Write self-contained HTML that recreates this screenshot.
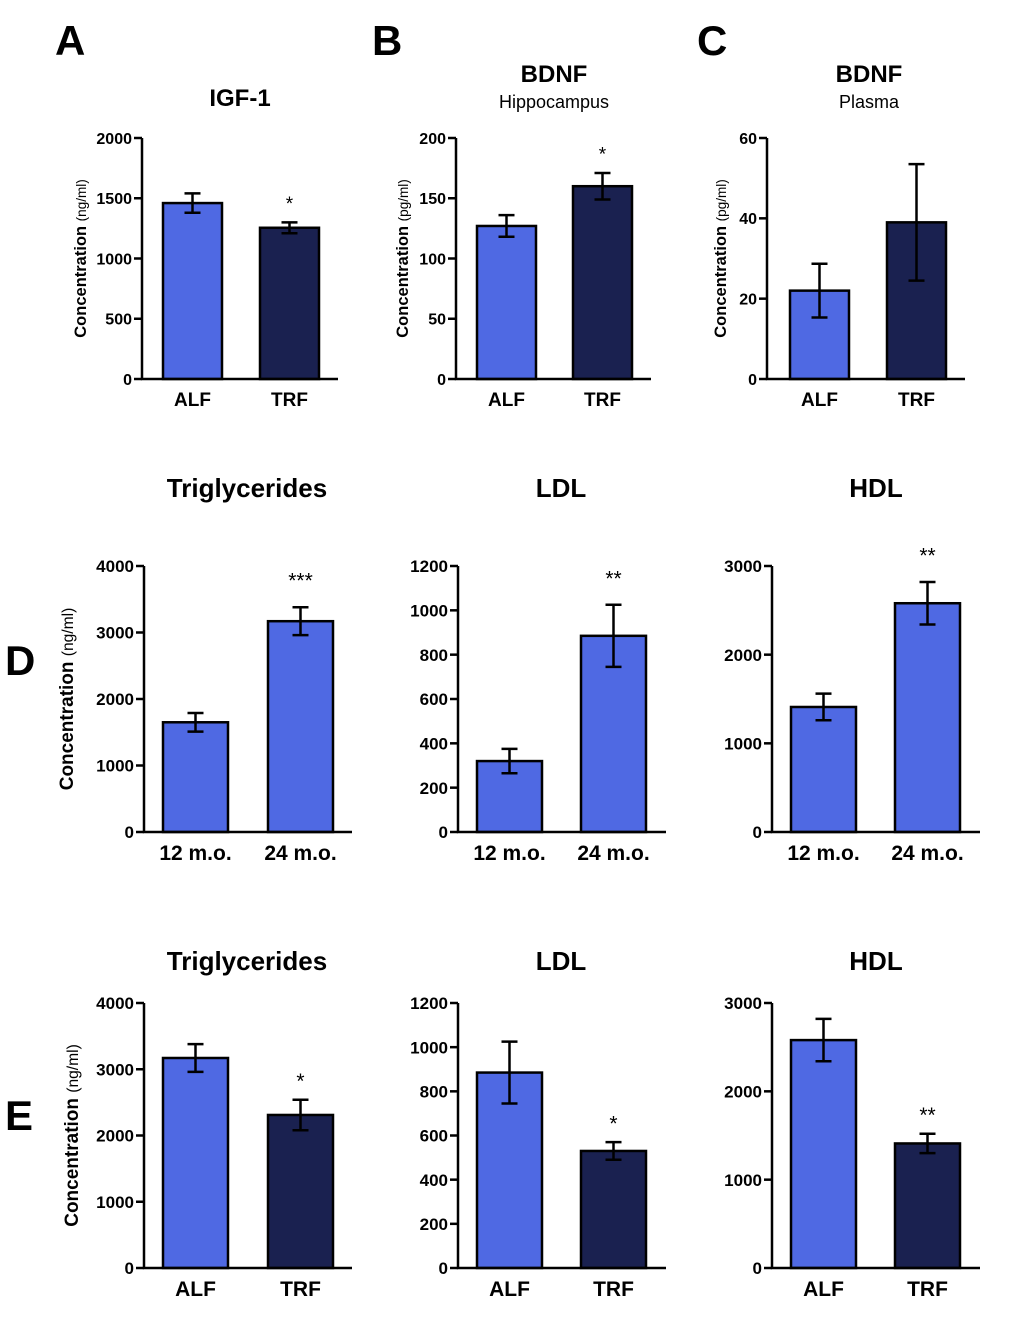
<!DOCTYPE html>
<html><head><meta charset="utf-8"><style>
html,body{margin:0;padding:0;background:#fff;}
svg{display:block;font-family:"Liberation Sans",Arial,sans-serif;}
</style></head><body>
<svg id="fig" width="1020" height="1325" viewBox="0 0 1020 1325"></svg>
<script>
const NS="http://www.w3.org/2000/svg";
const svg=document.getElementById('fig');
const LIGHT="#4f69e3",DARK="#1a2150";

// Panel data
const catsA=["ALF","TRF"], valsA=[1460,1255], errA=[80,45], sigA=["","*"], ticksA=[0,500,1000,1500,2000];
const catsB=["ALF","TRF"], valsB=[127,160], errB=[9,11], sigB=["","*"], ticksB=[0,50,100,150,200];
const catsC=["ALF","TRF"], valsC=[22,39], errC=[6.7,14.5], sigC=["",""], ticksC=[0,20,40,60];
const catsD=["12 m.o.","24 m.o."];
const valsD1=[1650,3170], errD1=[140,210], sigD1=["","***"], ticksD1=[0,1000,2000,3000,4000];
const valsD2=[320,885], errD2=[55,140], sigD2=["","**"], ticksD2=[0,200,400,600,800,1000,1200];
const valsD3=[1410,2580], errD3=[150,240], sigD3=["","**"], ticksD3=[0,1000,2000,3000];
const catsE=["ALF","TRF"];
const valsE1=[3170,2310], errE1=[210,230], sigE1=["","*"], ticksE1=[0,1000,2000,3000,4000];
const valsE2=[885,530], errE2=[140,40], sigE2=["","*"], ticksE2=[0,200,400,600,800,1000,1200];
const valsE3=[2580,1410], errE3=[240,110], sigE3=["","**"], ticksE3=[0,1000,2000,3000];

function el(tag,attrs,parent){const e=document.createElementNS(NS,tag);for(const k in attrs)e.setAttribute(k,attrs[k]);(parent||svg).appendChild(e);return e;}
function txt(s,attrs,parent){const t=el('text',attrs,parent);t.textContent=s;return t;}

function panel(o){
  const g=el('g',{});
  
  
  const y=v=>o.y0-(v/o.max)*(o.y0-o.y1);
  o.vals.forEach((v,i)=>{
    const bx=o.bx[i];
    const r=el('rect',{x:bx,y:y(v),width:o.bw,height:o.y0-y(v),fill:o.colors[i],stroke:"#000","stroke-width":2.5},g);
    
    
    const cx=bx+o.bw/2, e=o.errs[i];
    const eb=el('path',{d:`M${cx},${y(v+e)}V${y(v-e)}M${cx-8},${y(v+e)}H${cx+8}M${cx-8},${y(v-e)}H${cx+8}`,stroke:"#000","stroke-width":2.5,fill:"none"},g);
    
    
    if(o.sig[i]){const s=txt(o.sig[i],{x:cx,y:y(v+e)-o.sigOff+o.sfs*0.5,"text-anchor":"middle","font-size":o.sfs},g);
      
      }
    const xl=txt(o.cats[i],{x:cx,y:o.y0+o.xlOff,"text-anchor":"middle","font-size":o.xfs,"font-weight":"bold"},g);
    
    
  });
  const ax=el('path',{d:`M${o.ax},${o.y1}V${o.y0}H${o.xend}`,stroke:"#000","stroke-width":2.5,fill:"none"},g);
  
  
  o.ticks.forEach(t=>{
    el('path',{d:`M${o.ax-8},${y(t)}H${o.ax}`,stroke:"#000","stroke-width":2.5},g);
    const tl=txt(String(t),{x:o.ax-10,y:y(t)+o.fs*0.36,"text-anchor":"end","font-size":o.fs,"font-weight":"bold"},g);
    
    
  });
  if(o.ylab){
    const cy=(o.y0+o.y1)/2;
    const yl=el('text',{transform:`translate(${o.ylx},${cy}) rotate(-90)`,"text-anchor":"middle","font-size":o.ylfs,"font-weight":"bold"},g);
    
    
    yl.textContent="Concentration ";
    const ts=el('tspan',{"font-weight":"normal","font-size":o.ylfs*0.82},yl);ts.textContent=o.ylab;
  }
  if(o.title){const t=txt(o.title,{x:o.tx,y:o.ty,"text-anchor":"middle","font-size":o.tfs,"font-weight":"bold"},g);
    
    }
  if(o.sub){const t=txt(o.sub,{x:o.tx,y:o.ty+26,"text-anchor":"middle","font-size":18},g);
    
    }
}

const two=[LIGHT,DARK], same=[LIGHT,LIGHT];
const rowA={y0:379,y1:138,bw:59,fs:16,xfs:19,xlOff:27,ylfs:16.5,tfs:24,sfs:19,sigOff:22};
panel(Object.assign({},rowA,{name:'panel-a-igf1',cats:catsA,vals:valsA,errs:errA,sig:sigA,ticks:ticksA,max:2000,ax:142,xend:338,bx:[163,260],colors:two,ylab:"(ng/ml)",ylx:86,title:"IGF-1",tx:240,ty:106}));
panel(Object.assign({},rowA,{name:'panel-b-bdnf-hippocampus',cats:catsB,vals:valsB,errs:errB,sig:sigB,ticks:ticksB,max:200,ax:456,xend:651,bx:[477,573],colors:two,ylab:"(pg/ml)",ylx:408,title:"BDNF",sub:"Hippocampus",tx:554,ty:82}));
panel(Object.assign({},rowA,{name:'panel-c-bdnf-plasma',cats:catsC,vals:valsC,errs:errC,sig:sigC,ticks:ticksC,max:60,ax:767,xend:965,bx:[790,887],colors:two,ylab:"(pg/ml)",ylx:726,title:"BDNF",sub:"Plasma",tx:869,ty:82}));

const rowD={y0:832,y1:566,bw:65,fs:17,xfs:21,xlOff:28,ylfs:19,tfs:26,sfs:21,sigOff:30};
panel(Object.assign({},rowD,{name:'panel-d-triglycerides',cats:catsD,vals:valsD1,errs:errD1,sig:sigD1,ticks:ticksD1,max:4000,ax:144,xend:352,bx:[163,268],colors:same,ylab:"(ng/ml)",ylx:73,title:"Triglycerides",tx:247,ty:497}));
panel(Object.assign({},rowD,{name:'panel-d-ldl',cats:catsD,vals:valsD2,errs:errD2,sig:sigD2,ticks:ticksD2,max:1200,ax:458,xend:666,bx:[477,581],colors:same,title:"LDL",tx:561,ty:497}));
panel(Object.assign({},rowD,{name:'panel-d-hdl',cats:catsD,vals:valsD3,errs:errD3,sig:sigD3,ticks:ticksD3,max:3000,ax:772,xend:980,bx:[791,895],colors:same,title:"HDL",tx:876,ty:497}));

const rowE={y0:1268,y1:1003,bw:65,fs:17,xfs:21,xlOff:28,ylfs:19,tfs:26,sfs:21,sigOff:22};
panel(Object.assign({},rowE,{name:'panel-e-triglycerides',cats:catsE,vals:valsE1,errs:errE1,sig:sigE1,ticks:ticksE1,max:4000,ax:144,xend:352,bx:[163,268],colors:two,ylab:"(ng/ml)",ylx:78,title:"Triglycerides",tx:247,ty:970}));
panel(Object.assign({},rowE,{name:'panel-e-ldl',cats:catsE,vals:valsE2,errs:errE2,sig:sigE2,ticks:ticksE2,max:1200,ax:458,xend:666,bx:[477,581],colors:two,title:"LDL",tx:561,ty:970}));
panel(Object.assign({},rowE,{name:'panel-e-hdl',cats:catsE,vals:valsE3,errs:errE3,sig:sigE3,ticks:ticksE3,max:3000,ax:772,xend:980,bx:[791,895],colors:two,title:"HDL",tx:876,ty:970}));

[["A",55,55],["B",372,55],["C",697,55],["D",5,675],["E",5,1130]].forEach(l=>{
  const t=txt(l[0],{x:l[1],y:l[2],"font-size":42,"font-weight":"bold"});
  
  
});
</script>
</body></html>
